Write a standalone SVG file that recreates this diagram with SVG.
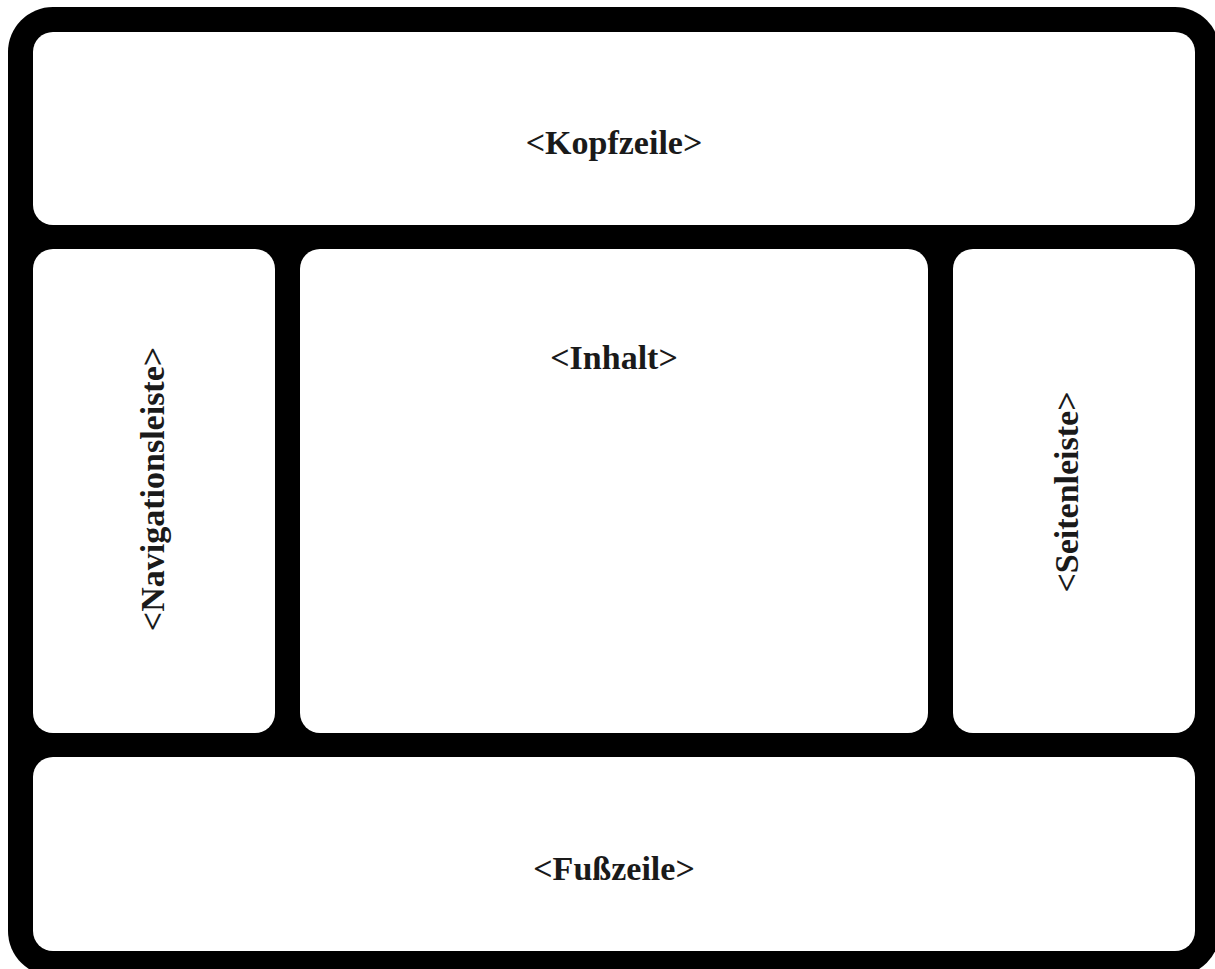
<svg xmlns="http://www.w3.org/2000/svg" width="1215" height="969" viewBox="0 0 1215 969">
  <style>
    .frame { fill: #000; }
    .panel { fill: #fff; }
    .label { font-family: "Liberation Serif", "DejaVu Serif", serif; font-weight: bold; font-size: 34px; fill: #1a1a1a; text-anchor: middle; }
  </style>
  <!-- black page frame; panels are cut out of it as white rounded boxes -->
  <rect class="frame" x="8" y="7" width="1212" height="969" rx="45" ry="45"/>
  <g id="kopfzeile">
    <rect class="panel" x="33" y="32" width="1162" height="193" rx="20" ry="20"/>
    <text class="label" x="614" y="154">&lt;Kopfzeile&gt;</text>
  </g>
  <g id="navigationsleiste">
    <rect class="panel" x="33" y="249" width="242" height="484" rx="20" ry="20"/>
    <text class="label" transform="translate(164 489) rotate(-90)">&lt;Navigationsleiste&gt;</text>
  </g>
  <g id="inhalt">
    <rect class="panel" x="300" y="249" width="628" height="484" rx="20" ry="20"/>
    <text class="label" x="614" y="369">&lt;Inhalt&gt;</text>
  </g>
  <g id="seitenleiste">
    <rect class="panel" x="953" y="249" width="242" height="484" rx="20" ry="20"/>
    <text class="label" transform="translate(1078 492) rotate(-90)">&lt;Seitenleiste&gt;</text>
  </g>
  <g id="fusszeile">
    <rect class="panel" x="33" y="757" width="1162" height="194" rx="20" ry="20"/>
    <text class="label" x="614" y="880">&lt;Fußzeile&gt;</text>
  </g>
  <g id="connectors"/>
</svg>
